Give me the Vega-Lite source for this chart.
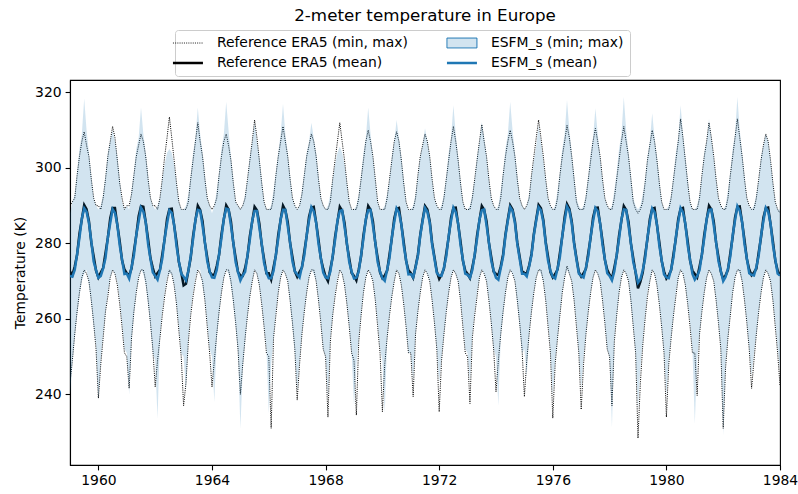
{
  "$schema": "https://vega.github.io/schema/vega-lite/v6.json",
  "autosize": {"type": "none"},
  "width": 710,
  "height": 385,
  "padding": {"left": 70, "top": 80, "right": 18, "bottom": 29},
  "background": "white",
  "title": {"text": "2-meter temperature in Europe", "font": "DejaVu Sans", "fontSize": 16.7, "fontWeight": "normal", "color": "#000", "anchor": "middle", "frame": "group", "offset": 5},
  "config": {
    "view": {"stroke": "#000", "strokeWidth": 1.1},
    "font": "DejaVu Sans",
    "axis": {"grid": false, "labelFont": "DejaVu Sans", "labelFontSize": 13.9, "labelColor": "#000", "tickColor": "#000", "tickSize": 4.9, "tickWidth": 1.1, "domainColor": "#000", "domainWidth": 1.1, "titleFont": "DejaVu Sans", "titleFontSize": 13.9, "titleFontWeight": "normal", "titleColor": "#000"}
  },
  "data": {"values": [
{"t":1959.000,"a":243,"b":290,"c":272.6,"d":240,"e":288,"f":271.4},
{"t":1959.083,"a":249,"b":291,"c":271.6,"d":248,"e":291,"f":271.2},
{"t":1959.167,"a":256,"b":292,"c":273.9,"d":255,"e":293,"f":273.0},
{"t":1959.250,"a":262,"b":298,"c":277.0,"d":261,"e":299,"f":277.2},
{"t":1959.333,"a":267,"b":303,"c":282.6,"d":266,"e":305,"f":281.5},
{"t":1959.417,"a":271,"b":307,"c":286.4,"d":270,"e":309,"f":286.6},
{"t":1959.500,"a":273,"b":309.6,"c":290.2,"d":272,"e":318.4,"f":289.3},
{"t":1959.583,"a":272,"b":306,"c":289.1,"d":273,"e":310,"f":288.4},
{"t":1959.667,"a":270,"b":303,"c":285.9,"d":269,"e":304,"f":285.4},
{"t":1959.750,"a":265,"b":297,"c":280.2,"d":264,"e":298,"f":280.6},
{"t":1959.833,"a":259,"b":292,"c":276.6,"d":258,"e":292,"f":275.2},
{"t":1959.917,"a":252,"b":290,"c":272.8,"d":253,"e":290,"f":272.9},
{"t":1960.000,"a":239,"b":290,"c":271.0,"d":238.5,"e":289,"f":270.9},
{"t":1960.083,"a":248,"b":289,"c":272.3,"d":249,"e":290,"f":271.4},
{"t":1960.167,"a":255,"b":292,"c":273.5,"d":256,"e":293,"f":273.4},
{"t":1960.250,"a":262,"b":297,"c":277.5,"d":262,"e":298,"f":276.1},
{"t":1960.333,"a":266,"b":303,"c":281.5,"d":267,"e":304,"f":281.6},
{"t":1960.417,"a":271,"b":307,"c":286.7,"d":271,"e":307,"f":285.4},
{"t":1960.500,"a":273,"b":311,"c":289.4,"d":273,"e":310,"f":289.1},
{"t":1960.583,"a":272,"b":308,"c":289.4,"d":272,"e":307,"f":288.1},
{"t":1960.667,"a":269,"b":302,"c":284.9,"d":270,"e":303,"f":284.9},
{"t":1960.750,"a":264,"b":296,"c":280.6,"d":265,"e":297,"f":279.5},
{"t":1960.833,"a":258,"b":292,"c":275.5,"d":259,"e":291,"f":275.7},
{"t":1960.917,"a":251,"b":289,"c":273.1,"d":252,"e":289,"f":271.9},
{"t":1961.000,"a":250,"b":290,"c":272.1,"d":251,"e":290,"f":272.0},
{"t":1961.083,"a":241.6,"b":290,"c":271.5,"d":240,"e":289,"f":270.7},
{"t":1961.167,"a":255,"b":293,"c":273.4,"d":254,"e":294,"f":273.7},
{"t":1961.250,"a":262,"b":298,"c":277.9,"d":261,"e":299,"f":276.8},
{"t":1961.333,"a":267,"b":303,"c":282.1,"d":267,"e":305,"f":282.2},
{"t":1961.417,"a":271,"b":306,"c":287.2,"d":271,"e":308,"f":285.8},
{"t":1961.500,"a":273,"b":309,"c":289.9,"d":273,"e":316,"f":289.5},
{"t":1961.583,"a":273,"b":307,"c":289.7,"d":272,"e":309,"f":288.4},
{"t":1961.667,"a":270,"b":303,"c":285.6,"d":269,"e":304,"f":285.6},
{"t":1961.750,"a":265,"b":297,"c":281.1,"d":264,"e":298,"f":279.8},
{"t":1961.833,"a":259,"b":292,"c":276.1,"d":258,"e":292,"f":275.9},
{"t":1961.917,"a":252,"b":290,"c":273.5,"d":251,"e":290,"f":272.3},
{"t":1962.000,"a":242,"b":290,"c":271.3,"d":249,"e":289,"f":271.4},
{"t":1962.083,"a":249,"b":289,"c":272.2,"d":233.6,"e":290,"f":270.4},
{"t":1962.167,"a":255,"b":292,"c":273.0,"d":255,"e":292,"f":272.9},
{"t":1962.250,"a":261,"b":297,"c":277.1,"d":262,"e":297,"f":276.0},
{"t":1962.333,"a":266,"b":303,"c":281.2,"d":267,"e":301,"f":281.3},
{"t":1962.417,"a":270,"b":308,"c":286.5,"d":271,"e":304,"f":285.2},
{"t":1962.500,"a":273,"b":313.5,"c":289.1,"d":272,"e":305,"f":288.8},
{"t":1962.583,"a":272,"b":308,"c":289.2,"d":272,"e":304,"f":288.1},
{"t":1962.667,"a":269,"b":302,"c":284.8,"d":269,"e":301,"f":284.9},
{"t":1962.750,"a":264,"b":296,"c":280.5,"d":264,"e":296,"f":279.3},
{"t":1962.833,"a":257,"b":291,"c":275.1,"d":258,"e":291,"f":275.3},
{"t":1962.917,"a":250,"b":289,"c":272.3,"d":251,"e":289,"f":272.0},
{"t":1963.000,"a":237,"b":289,"c":268.9,"d":250,"e":289,"f":271.2},
{"t":1963.083,"a":243,"b":289,"c":269.3,"d":241,"e":290,"f":270.2},
{"t":1963.167,"a":254,"b":291,"c":272.7,"d":255,"e":293,"f":272.7},
{"t":1963.250,"a":261,"b":297,"c":276.2,"d":262,"e":298,"f":276.6},
{"t":1963.333,"a":266,"b":302,"c":281.9,"d":267,"e":304,"f":281.1},
{"t":1963.417,"a":270,"b":307,"c":286.1,"d":271,"e":308,"f":286.3},
{"t":1963.500,"a":273,"b":312,"c":290.0,"d":273,"e":316,"f":288.9},
{"t":1963.583,"a":272,"b":307,"c":288.9,"d":273,"e":309,"f":288.7},
{"t":1963.667,"a":270,"b":303,"c":285.9,"d":269,"e":304,"f":284.7},
{"t":1963.750,"a":265,"b":297,"c":280.2,"d":265,"e":298,"f":280.3},
{"t":1963.833,"a":258,"b":292,"c":276.3,"d":259,"e":292,"f":275.3},
{"t":1963.917,"a":251,"b":290,"c":272.4,"d":252,"e":290,"f":272.6},
{"t":1964.000,"a":242,"b":289,"c":271.7,"d":250,"e":288,"f":271.0},
{"t":1964.083,"a":249,"b":290,"c":271.6,"d":238,"e":290,"f":270.9},
{"t":1964.167,"a":256,"b":292,"c":274.0,"d":255,"e":294,"f":273.0},
{"t":1964.250,"a":262,"b":298,"c":277.0,"d":261,"e":299,"f":277.2},
{"t":1964.333,"a":267,"b":303,"c":282.4,"d":267,"e":305,"f":281.4},
{"t":1964.417,"a":271,"b":307,"c":286.4,"d":271,"e":309,"f":286.6},
{"t":1964.500,"a":273,"b":309,"c":290.1,"d":273,"e":317.5,"f":289.2},
{"t":1964.583,"a":273,"b":306,"c":289.0,"d":272,"e":310,"f":289.0},
{"t":1964.667,"a":270,"b":302,"c":285.8,"d":269,"e":303,"f":284.8},
{"t":1964.750,"a":265,"b":296,"c":280.1,"d":264,"e":297,"f":280.2},
{"t":1964.833,"a":259,"b":291,"c":276.2,"d":258,"e":291,"f":275.0},
{"t":1964.917,"a":252,"b":290,"c":272.4,"d":251,"e":290,"f":272.4},
{"t":1965.000,"a":240,"b":289,"c":271.5,"d":231,"e":289,"f":270.2},
{"t":1965.083,"a":248,"b":290,"c":271.4,"d":247,"e":290,"f":271.5},
{"t":1965.167,"a":255,"b":292,"c":273.5,"d":254,"e":293,"f":272.5},
{"t":1965.250,"a":261,"b":297,"c":276.6,"d":261,"e":297,"f":276.8},
{"t":1965.333,"a":266,"b":302,"c":282.0,"d":266,"e":303,"f":281.0},
{"t":1965.417,"a":270,"b":307,"c":285.8,"d":270,"e":307,"f":286.1},
{"t":1965.500,"a":273,"b":312.7,"c":289.7,"d":273,"e":312,"f":288.6},
{"t":1965.583,"a":272,"b":308,"c":288.8,"d":272,"e":307,"f":288.6},
{"t":1965.667,"a":269,"b":302,"c":285.3,"d":269,"e":303,"f":284.2},
{"t":1965.750,"a":264,"b":296,"c":279.7,"d":264,"e":297,"f":280.0},
{"t":1965.833,"a":258,"b":291,"c":275.9,"d":258,"e":291,"f":274.9},
{"t":1965.917,"a":251,"b":289,"c":272.1,"d":252,"e":289,"f":272.3},
{"t":1966.000,"a":250,"b":289,"c":272.1,"d":235,"e":289,"f":270.8},
{"t":1966.083,"a":231,"b":289,"c":270.4,"d":248,"e":290,"f":270.8},
{"t":1966.167,"a":255,"b":292,"c":273.7,"d":255,"e":294,"f":272.7},
{"t":1966.250,"a":261,"b":298,"c":276.9,"d":262,"e":299,"f":277.0},
{"t":1966.333,"a":267,"b":303,"c":282.3,"d":267,"e":304,"f":281.3},
{"t":1966.417,"a":271,"b":307,"c":286.3,"d":271,"e":309,"f":286.4},
{"t":1966.500,"a":273,"b":311,"c":290.0,"d":273,"e":317,"f":288.9},
{"t":1966.583,"a":272,"b":307,"c":288.8,"d":272,"e":309,"f":288.9},
{"t":1966.667,"a":270,"b":303,"c":285.7,"d":270,"e":304,"f":284.6},
{"t":1966.750,"a":265,"b":297,"c":280.1,"d":264,"e":298,"f":280.2},
{"t":1966.833,"a":259,"b":292,"c":276.4,"d":258,"e":292,"f":275.2},
{"t":1966.917,"a":252,"b":290,"c":272.6,"d":251,"e":290,"f":272.6},
{"t":1967.000,"a":238.5,"b":289,"c":271.2,"d":241,"e":289,"f":271.8},
{"t":1967.083,"a":248,"b":290,"c":272.5,"d":249,"e":290,"f":271.0},
{"t":1967.167,"a":256,"b":293,"c":273.6,"d":256,"e":294,"f":273.8},
{"t":1967.250,"a":262,"b":298,"c":277.8,"d":262,"e":299,"f":276.8},
{"t":1967.333,"a":267,"b":303,"c":282.0,"d":267,"e":304,"f":282.1},
{"t":1967.417,"a":271,"b":306,"c":287.1,"d":271,"e":307,"f":286.1},
{"t":1967.500,"a":273,"b":309,"c":289.5,"d":273,"e":312,"f":289.6},
{"t":1967.583,"a":273,"b":307,"c":289.7,"d":272,"e":308,"f":288.5},
{"t":1967.667,"a":270,"b":303,"c":285.5,"d":270,"e":304,"f":285.5},
{"t":1967.750,"a":265,"b":297,"c":281.0,"d":265,"e":298,"f":279.9},
{"t":1967.833,"a":259,"b":292,"c":276.0,"d":259,"e":292,"f":276.1},
{"t":1967.917,"a":252,"b":290,"c":273.3,"d":252,"e":290,"f":272.3},
{"t":1968.000,"a":250,"b":289,"c":271.2,"d":250,"e":289,"f":271.0},
{"t":1968.083,"a":234,"b":289,"c":270.0,"d":239.4,"e":290,"f":270.8},
{"t":1968.167,"a":254,"b":291,"c":273.2,"d":255,"e":293,"f":272.5},
{"t":1968.250,"a":261,"b":297,"c":276.4,"d":261,"e":297,"f":276.7},
{"t":1968.333,"a":266,"b":302,"c":281.7,"d":267,"e":301,"f":280.9},
{"t":1968.417,"a":270,"b":307,"c":285.7,"d":271,"e":304,"f":286.0},
{"t":1968.500,"a":273,"b":312,"c":289.7,"d":273,"e":305.6,"f":288.6},
{"t":1968.583,"a":272,"b":307,"c":288.7,"d":272,"e":304,"f":288.8},
{"t":1968.667,"a":269,"b":302,"c":285.4,"d":269,"e":301,"f":284.4},
{"t":1968.750,"a":264,"b":296,"c":279.8,"d":264,"e":296,"f":280.1},
{"t":1968.833,"a":258,"b":291,"c":276.0,"d":258,"e":291,"f":275.0},
{"t":1968.917,"a":251,"b":289,"c":272.2,"d":251,"e":289,"f":272.5},
{"t":1969.000,"a":249,"b":289,"c":271.4,"d":237,"e":289,"f":270.7},
{"t":1969.083,"a":234.5,"b":289,"c":270.2,"d":248,"e":290,"f":270.9},
{"t":1969.167,"a":254,"b":292,"c":273.1,"d":255,"e":293,"f":272.6},
{"t":1969.250,"a":261,"b":297,"c":276.6,"d":261,"e":298,"f":276.9},
{"t":1969.333,"a":267,"b":302,"c":282.2,"d":267,"e":304,"f":281.3},
{"t":1969.417,"a":271,"b":307,"c":286.2,"d":271,"e":308,"f":286.5},
{"t":1969.500,"a":273,"b":310,"c":289.9,"d":273,"e":316,"f":288.8},
{"t":1969.583,"a":272,"b":307,"c":288.9,"d":272,"e":309,"f":288.9},
{"t":1969.667,"a":270,"b":303,"c":285.8,"d":270,"e":303,"f":284.7},
{"t":1969.750,"a":265,"b":297,"c":280.1,"d":265,"e":297,"f":280.2},
{"t":1969.833,"a":258,"b":291,"c":276.2,"d":259,"e":291,"f":275.1},
{"t":1969.917,"a":251,"b":289,"c":272.3,"d":252,"e":289,"f":272.5},
{"t":1970.000,"a":235.4,"b":289,"c":270.8,"d":249,"e":289,"f":270.8},
{"t":1970.083,"a":248,"b":289,"c":271.5,"d":235,"e":290,"f":270.1},
{"t":1970.167,"a":255,"b":292,"c":272.8,"d":255,"e":293,"f":273.0},
{"t":1970.250,"a":261,"b":297,"c":277.1,"d":261,"e":297,"f":276.1},
{"t":1970.333,"a":266,"b":302,"c":281.4,"d":266,"e":303,"f":281.7},
{"t":1970.417,"a":270,"b":307,"c":286.6,"d":270,"e":307,"f":285.6},
{"t":1970.500,"a":273,"b":309.6,"c":289.2,"d":273,"e":312.7,"f":289.3},
{"t":1970.583,"a":272,"b":307,"c":289.4,"d":272,"e":308,"f":288.2},
{"t":1970.667,"a":269,"b":302,"c":285.0,"d":269,"e":303,"f":285.1},
{"t":1970.750,"a":264,"b":296,"c":280.5,"d":264,"e":297,"f":279.4},
{"t":1970.833,"a":258,"b":291,"c":275.5,"d":258,"e":291,"f":275.7},
{"t":1970.917,"a":251,"b":289,"c":272.9,"d":251,"e":289,"f":271.8},
{"t":1971.000,"a":251,"b":289,"c":272.2,"d":251,"e":289,"f":271.9},
{"t":1971.083,"a":239.4,"b":289,"c":270.9,"d":243.8,"e":290,"f":271.0},
{"t":1971.167,"a":256,"b":292,"c":273.8,"d":256,"e":293,"f":273.6},
{"t":1971.250,"a":262,"b":298,"c":277.0,"d":262,"e":298,"f":276.7},
{"t":1971.333,"a":267,"b":303,"c":282.3,"d":267,"e":303,"f":282.1},
{"t":1971.417,"a":271,"b":306,"c":286.3,"d":271,"e":306,"f":286.0},
{"t":1971.500,"a":273,"b":309,"c":289.9,"d":273,"e":310.5,"f":289.4},
{"t":1971.583,"a":272,"b":307,"c":289.0,"d":272,"e":307,"f":288.4},
{"t":1971.667,"a":270,"b":303,"c":285.9,"d":270,"e":303,"f":285.4},
{"t":1971.750,"a":265,"b":297,"c":280.2,"d":265,"e":297,"f":279.7},
{"t":1971.833,"a":259,"b":292,"c":276.4,"d":259,"e":292,"f":275.9},
{"t":1971.917,"a":252,"b":290,"c":272.5,"d":252,"e":290,"f":272.2},
{"t":1972.000,"a":235.4,"b":289,"c":270.6,"d":243,"e":289,"f":271.5},
{"t":1972.083,"a":249,"b":289,"c":271.7,"d":250,"e":290,"f":271.4},
{"t":1972.167,"a":256,"b":292,"c":273.3,"d":256,"e":293,"f":273.6},
{"t":1972.250,"a":262,"b":297,"c":277.5,"d":262,"e":298,"f":276.6},
{"t":1972.333,"a":267,"b":302,"c":281.6,"d":267,"e":304,"f":282.0},
{"t":1972.417,"a":271,"b":307,"c":286.8,"d":271,"e":308,"f":285.9},
{"t":1972.500,"a":273,"b":311,"c":289.4,"d":273,"e":316.6,"f":289.5},
{"t":1972.583,"a":272,"b":307,"c":289.5,"d":272,"e":309,"f":288.3},
{"t":1972.667,"a":270,"b":302,"c":285.1,"d":270,"e":303,"f":285.3},
{"t":1972.750,"a":265,"b":296,"c":280.6,"d":265,"e":297,"f":279.6},
{"t":1972.833,"a":258,"b":291,"c":275.5,"d":259,"e":291,"f":275.8},
{"t":1972.917,"a":251,"b":289,"c":272.8,"d":252,"e":289,"f":272.0},
{"t":1973.000,"a":250,"b":289,"c":271.9,"d":251,"e":289,"f":271.7},
{"t":1973.083,"a":237.6,"b":289,"c":270.8,"d":243.3,"e":290,"f":270.9},
{"t":1973.167,"a":255,"b":292,"c":273.7,"d":256,"e":293,"f":273.0},
{"t":1973.250,"a":261,"b":297,"c":276.8,"d":262,"e":297,"f":277.1},
{"t":1973.333,"a":266,"b":302,"c":282.1,"d":267,"e":303,"f":281.2},
{"t":1973.417,"a":271,"b":307,"c":286.1,"d":271,"e":307,"f":286.3},
{"t":1973.500,"a":273,"b":311.5,"c":289.9,"d":273,"e":312.2,"f":288.8},
{"t":1973.583,"a":272,"b":307,"c":288.9,"d":272,"e":308,"f":289.0},
{"t":1973.667,"a":270,"b":303,"c":285.9,"d":270,"e":303,"f":284.8},
{"t":1973.750,"a":265,"b":297,"c":280.2,"d":265,"e":297,"f":280.3},
{"t":1973.833,"a":259,"b":292,"c":276.4,"d":259,"e":292,"f":275.4},
{"t":1973.917,"a":252,"b":290,"c":272.5,"d":252,"e":290,"f":272.8},
{"t":1974.000,"a":240.7,"b":289,"c":271.9,"d":250,"e":289,"f":270.9},
{"t":1974.083,"a":249,"b":289,"c":271.6,"d":237,"e":290,"f":270.4},
{"t":1974.167,"a":256,"b":292,"c":273.9,"d":255,"e":294,"f":273.4},
{"t":1974.250,"a":262,"b":298,"c":277.1,"d":261,"e":299,"f":276.5},
{"t":1974.333,"a":267,"b":303,"c":282.4,"d":267,"e":305,"f":282.0},
{"t":1974.417,"a":271,"b":307,"c":286.4,"d":271,"e":309,"f":286.0},
{"t":1974.500,"a":273,"b":310,"c":290.1,"d":273,"e":317.5,"f":289.6},
{"t":1974.583,"a":272,"b":307,"c":289.0,"d":272,"e":310,"f":288.6},
{"t":1974.667,"a":270,"b":303,"c":285.9,"d":270,"e":304,"f":285.4},
{"t":1974.750,"a":265,"b":297,"c":280.2,"d":264,"e":298,"f":279.8},
{"t":1974.833,"a":259,"b":292,"c":276.5,"d":258,"e":292,"f":275.9},
{"t":1974.917,"a":252,"b":290,"c":272.6,"d":251,"e":290,"f":272.0},
{"t":1975.000,"a":239.4,"b":289,"c":272.2,"d":252,"e":289,"f":272.0},
{"t":1975.083,"a":249,"b":290,"c":272.0,"d":244.7,"e":290,"f":271.3},
{"t":1975.167,"a":256,"b":292,"c":274.1,"d":256,"e":293,"f":273.9},
{"t":1975.250,"a":262,"b":298,"c":277.2,"d":262,"e":298,"f":276.9},
{"t":1975.333,"a":267,"b":303,"c":282.5,"d":267,"e":302,"f":282.2},
{"t":1975.417,"a":271,"b":308,"c":286.5,"d":271,"e":306,"f":286.1},
{"t":1975.500,"a":273,"b":312.7,"c":290.2,"d":273,"e":311.3,"f":289.6},
{"t":1975.583,"a":273,"b":308,"c":289.3,"d":272,"e":307,"f":288.8},
{"t":1975.667,"a":270,"b":303,"c":286.2,"d":270,"e":302,"f":285.6},
{"t":1975.750,"a":265,"b":297,"c":280.4,"d":265,"e":297,"f":280.0},
{"t":1975.833,"a":258,"b":292,"c":276.5,"d":259,"e":292,"f":275.4},
{"t":1975.917,"a":251,"b":290,"c":272.4,"d":252,"e":290,"f":272.7},
{"t":1976.000,"a":233.7,"b":289,"c":271.0,"d":239.7,"e":289,"f":271.1},
{"t":1976.083,"a":248,"b":289,"c":271.9,"d":249,"e":290,"f":270.7},
{"t":1976.167,"a":255,"b":292,"c":273.1,"d":255,"e":294,"f":273.3},
{"t":1976.250,"a":261,"b":298,"c":277.5,"d":261,"e":299,"f":276.4},
{"t":1976.333,"a":267,"b":303,"c":281.8,"d":267,"e":305,"f":282.0},
{"t":1976.417,"a":271,"b":307,"c":287.0,"d":271,"e":309,"f":286.0},
{"t":1976.500,"a":274,"b":311.3,"c":290.4,"d":273,"e":318,"f":289.8},
{"t":1976.583,"a":272,"b":308,"c":289.2,"d":272,"e":310,"f":288.7},
{"t":1976.667,"a":270,"b":303,"c":285.9,"d":270,"e":304,"f":285.3},
{"t":1976.750,"a":265,"b":297,"c":280.2,"d":265,"e":298,"f":279.8},
{"t":1976.833,"a":258,"b":291,"c":276.1,"d":259,"e":292,"f":275.7},
{"t":1976.917,"a":251,"b":289,"c":272.4,"d":251,"e":290,"f":272.0},
{"t":1977.000,"a":236,"b":289,"c":271.2,"d":241.6,"e":289,"f":271.4},
{"t":1977.083,"a":248,"b":289,"c":272.1,"d":250,"e":290,"f":271.0},
{"t":1977.167,"a":256,"b":292,"c":273.3,"d":256,"e":293,"f":273.6},
{"t":1977.250,"a":262,"b":297,"c":277.5,"d":262,"e":298,"f":276.6},
{"t":1977.333,"a":267,"b":302,"c":281.6,"d":267,"e":304,"f":281.9},
{"t":1977.417,"a":271,"b":307,"c":286.8,"d":271,"e":308,"f":285.8},
{"t":1977.500,"a":273,"b":310.5,"c":289.4,"d":273,"e":315.8,"f":289.4},
{"t":1977.583,"a":272,"b":307,"c":289.5,"d":272,"e":309,"f":288.5},
{"t":1977.667,"a":270,"b":303,"c":285.2,"d":270,"e":303,"f":285.3},
{"t":1977.750,"a":265,"b":297,"c":280.7,"d":265,"e":297,"f":279.6},
{"t":1977.833,"a":259,"b":292,"c":275.7,"d":259,"e":292,"f":275.9},
{"t":1977.917,"a":252,"b":290,"c":273.0,"d":252,"e":290,"f":272.1},
{"t":1978.000,"a":250,"b":289,"c":271.7,"d":250,"e":289,"f":271.4},
{"t":1978.083,"a":237,"b":289,"c":270.7,"d":231.3,"e":290,"f":270.2},
{"t":1978.167,"a":254,"b":292,"c":273.6,"d":255,"e":294,"f":272.6},
{"t":1978.250,"a":261,"b":297,"c":276.8,"d":261,"e":299,"f":276.9},
{"t":1978.333,"a":267,"b":302,"c":282.1,"d":267,"e":305,"f":281.2},
{"t":1978.417,"a":271,"b":307,"c":286.1,"d":271,"e":309,"f":286.4},
{"t":1978.500,"a":273,"b":311,"c":289.9,"d":273,"e":318.8,"f":289.0},
{"t":1978.583,"a":272,"b":307,"c":288.9,"d":272,"e":310,"f":288.9},
{"t":1978.667,"a":270,"b":303,"c":285.7,"d":270,"e":304,"f":284.7},
{"t":1978.750,"a":265,"b":297,"c":280.0,"d":264,"e":298,"f":280.1},
{"t":1978.833,"a":258,"b":291,"c":276.1,"d":258,"e":292,"f":275.1},
{"t":1978.917,"a":251,"b":289,"c":272.2,"d":251,"e":290,"f":272.4},
{"t":1979.000,"a":228.4,"b":288,"c":268.1,"d":236,"e":289,"f":269.6},
{"t":1979.083,"a":243,"b":289,"c":269.8,"d":247,"e":290,"f":270.5},
{"t":1979.167,"a":253,"b":291,"c":272.3,"d":254,"e":293,"f":272.9},
{"t":1979.250,"a":260,"b":296,"c":276.9,"d":261,"e":297,"f":276.0},
{"t":1979.333,"a":266,"b":302,"c":281.2,"d":267,"e":303,"f":281.6},
{"t":1979.417,"a":270,"b":306,"c":286.5,"d":270,"e":307,"f":285.6},
{"t":1979.500,"a":273,"b":310,"c":289.2,"d":273,"e":314.5,"f":289.3},
{"t":1979.583,"a":272,"b":307,"c":289.4,"d":272,"e":308,"f":288.3},
{"t":1979.667,"a":269,"b":302,"c":284.9,"d":269,"e":303,"f":285.1},
{"t":1979.750,"a":264,"b":296,"c":280.4,"d":264,"e":297,"f":279.4},
{"t":1979.833,"a":258,"b":291,"c":275.4,"d":258,"e":291,"f":275.6},
{"t":1979.917,"a":251,"b":289,"c":272.6,"d":251,"e":289,"f":271.8},
{"t":1980.000,"a":234,"b":289,"c":270.7,"d":239.7,"e":289,"f":271.0},
{"t":1980.083,"a":248,"b":289,"c":271.6,"d":249,"e":290,"f":270.8},
{"t":1980.167,"a":255,"b":292,"c":272.9,"d":255,"e":293,"f":273.2},
{"t":1980.250,"a":261,"b":297,"c":277.2,"d":261,"e":298,"f":276.3},
{"t":1980.333,"a":266,"b":302,"c":281.3,"d":267,"e":304,"f":281.7},
{"t":1980.417,"a":271,"b":307,"c":286.5,"d":271,"e":308,"f":285.7},
{"t":1980.500,"a":273,"b":313,"c":289.2,"d":273,"e":316.6,"f":289.4},
{"t":1980.583,"a":272,"b":308,"c":289.4,"d":272,"e":309,"f":288.3},
{"t":1980.667,"a":269,"b":302,"c":285.0,"d":269,"e":303,"f":285.2},
{"t":1980.750,"a":264,"b":296,"c":280.6,"d":264,"e":297,"f":279.5},
{"t":1980.833,"a":258,"b":291,"c":275.5,"d":259,"e":291,"f":275.7},
{"t":1980.917,"a":251,"b":289,"c":272.8,"d":252,"e":289,"f":271.9},
{"t":1981.000,"a":251,"b":289,"c":271.9,"d":232.3,"e":289,"f":270.4},
{"t":1981.083,"a":239.7,"b":289,"c":271.0,"d":249,"e":290,"f":271.3},
{"t":1981.167,"a":256,"b":292,"c":273.9,"d":256,"e":293,"f":272.9},
{"t":1981.250,"a":262,"b":298,"c":277.0,"d":262,"e":298,"f":277.1},
{"t":1981.333,"a":267,"b":303,"c":282.3,"d":267,"e":304,"f":281.4},
{"t":1981.417,"a":271,"b":307,"c":286.3,"d":271,"e":307,"f":286.4},
{"t":1981.500,"a":273,"b":312,"c":290.0,"d":273,"e":313,"f":288.9},
{"t":1981.583,"a":272,"b":308,"c":289.0,"d":272,"e":308,"f":289.0},
{"t":1981.667,"a":270,"b":303,"c":285.9,"d":270,"e":303,"f":284.8},
{"t":1981.750,"a":265,"b":297,"c":280.2,"d":265,"e":297,"f":280.3},
{"t":1981.833,"a":259,"b":292,"c":276.4,"d":259,"e":292,"f":275.3},
{"t":1981.917,"a":252,"b":290,"c":272.5,"d":252,"e":290,"f":272.7},
{"t":1982.000,"a":231,"b":289,"c":270.6,"d":229.2,"e":289,"f":270.0},
{"t":1982.083,"a":247,"b":289,"c":271.5,"d":248,"e":290,"f":271.1},
{"t":1982.167,"a":255,"b":292,"c":273.0,"d":255,"e":294,"f":273.3},
{"t":1982.250,"a":261,"b":298,"c":277.4,"d":261,"e":299,"f":276.5},
{"t":1982.333,"a":267,"b":303,"c":281.7,"d":267,"e":305,"f":282.1},
{"t":1982.417,"a":271,"b":308,"c":286.9,"d":271,"e":309,"f":286.1},
{"t":1982.500,"a":273,"b":313,"c":289.7,"d":273,"e":318.8,"f":289.9},
{"t":1982.583,"a":273,"b":308,"c":289.8,"d":272,"e":310,"f":288.7},
{"t":1982.667,"a":270,"b":303,"c":285.5,"d":270,"e":304,"f":285.6},
{"t":1982.750,"a":265,"b":297,"c":280.9,"d":265,"e":298,"f":279.8},
{"t":1982.833,"a":259,"b":292,"c":275.9,"d":259,"e":292,"f":276.0},
{"t":1982.917,"a":252,"b":290,"c":273.1,"d":252,"e":290,"f":272.1},
{"t":1983.000,"a":241.6,"b":289,"c":271.6,"d":245,"e":289,"f":271.7},
{"t":1983.083,"a":249,"b":289,"c":272.3,"d":251,"e":290,"f":271.5},
{"t":1983.167,"a":256,"b":292,"c":273.3,"d":256,"e":293,"f":273.7},
{"t":1983.250,"a":262,"b":297,"c":277.6,"d":262,"e":297,"f":276.8},
{"t":1983.333,"a":267,"b":302,"c":281.7,"d":267,"e":303,"f":282.1},
{"t":1983.417,"a":271,"b":306,"c":286.9,"d":271,"e":306,"f":286.0},
{"t":1983.500,"a":273,"b":309,"c":289.3,"d":273,"e":309,"f":289.5},
{"t":1983.583,"a":272,"b":307,"c":289.5,"d":272,"e":307,"f":288.5},
{"t":1983.667,"a":270,"b":302,"c":285.1,"d":270,"e":302,"f":285.3},
{"t":1983.750,"a":265,"b":296,"c":280.6,"d":265,"e":296,"f":279.6},
{"t":1983.833,"a":258,"b":291,"c":275.5,"d":259,"e":291,"f":275.8},
{"t":1983.917,"a":251,"b":289,"c":272.8,"d":252,"e":289,"f":272.0},
{"t":1984.000,"a":242.4,"b":288,"c":271.5,"d":247,"e":289,"f":271.5}
  ]},
  "encoding": {
    "x": {"field": "t", "type": "quantitative", "scale": {"domain": [1959, 1984], "nice": false, "zero": false},
      "axis": {"values": [1960, 1964, 1968, 1972, 1976, 1980, 1984], "format": "d", "title": null, "labelPadding": 3.5, "labelFlush": false}}
  },
  "layer": [
    {
      "transform": [{"fold": ["a", "b"], "as": ["k", "v"]}],
      "mark": {"type": "line", "strokeWidth": 1, "strokeDash": [1, 1.2], "clip": true},
      "encoding": {
        "y": {"field": "v", "type": "quantitative", "scale": {"domain": [221.3, 323.3], "nice": false, "zero": false},
          "axis": {"values": [240, 260, 280, 300, 320], "title": "Temperature (K)", "titlePadding": 7, "labelPadding": 4}},
        "detail": {"field": "k"},
        "color": {"datum": "Reference ERA5 (min, max)", "type": "nominal",
          "scale": {"domain": ["Reference ERA5 (min, max)", "Reference ERA5 (mean)", "ESFM_s (min; max)", "ESFM_s (mean)"], "range": ["#000000", "#000000", "#1f77b4", "#1f77b4"]},
          "legend": {
            "title": null, "orient": "none", "legendX": 105, "legendY": -50, "columns": 2, "direction": "vertical",
            "labelFont": "DejaVu Sans", "labelFontSize": 13.9, "labelColor": "#000", "labelOffset": 22, "labelLimit": 400,
            "symbolSize": 900, "rowPadding": 5, "columnPadding": 33, "padding": 6,
            "strokeColor": "#cccccc", "fillColor": "#ffffff", "cornerRadius": 3,
            "encode": {"symbols": {"update": {
              "shape": {"signal": "datum.value === 'ESFM_s (min; max)' ? 'M-1,-0.33H1V0.33H-1Z' : 'stroke'"},
              "strokeDash": {"signal": "datum.value === 'Reference ERA5 (min, max)' ? [1, 1.2] : [1, 0]"},
              "strokeWidth": {"signal": "datum.value === 'Reference ERA5 (min, max)' ? 0.9 : datum.value === 'ESFM_s (min; max)' ? 1 : 2.4"},
              "fill": {"signal": "datum.value === 'ESFM_s (min; max)' ? '#1f77b4' : 'transparent'"},
              "fillOpacity": {"signal": "datum.value === 'ESFM_s (min; max)' ? 0.2 : 0"},
              "stroke": {"signal": "datum.value === 'ESFM_s (mean)' ? '#1f77b4' : datum.value === 'ESFM_s (min; max)' ? '#bcd7ea' : '#000000'"},
              "strokeOpacity": {"value": 1},
              "opacity": {"value": 1}
            }}}
          }}
      }
    },
    {
      "mark": {"type": "line", "strokeWidth": 2.5, "clip": true},
      "encoding": {
        "y": {"field": "c", "type": "quantitative"},
        "color": {"datum": "Reference ERA5 (mean)", "type": "nominal"}
      }
    },
    {
      "mark": {"type": "area", "opacity": 0.2, "clip": true},
      "encoding": {
        "y": {"field": "d", "type": "quantitative"},
        "y2": {"field": "e"},
        "color": {"datum": "ESFM_s (min; max)", "type": "nominal"}
      }
    },
    {
      "mark": {"type": "line", "strokeWidth": 2.5, "clip": true},
      "encoding": {
        "y": {"field": "f", "type": "quantitative"},
        "color": {"datum": "ESFM_s (mean)", "type": "nominal"}
      }
    }
  ]
}
